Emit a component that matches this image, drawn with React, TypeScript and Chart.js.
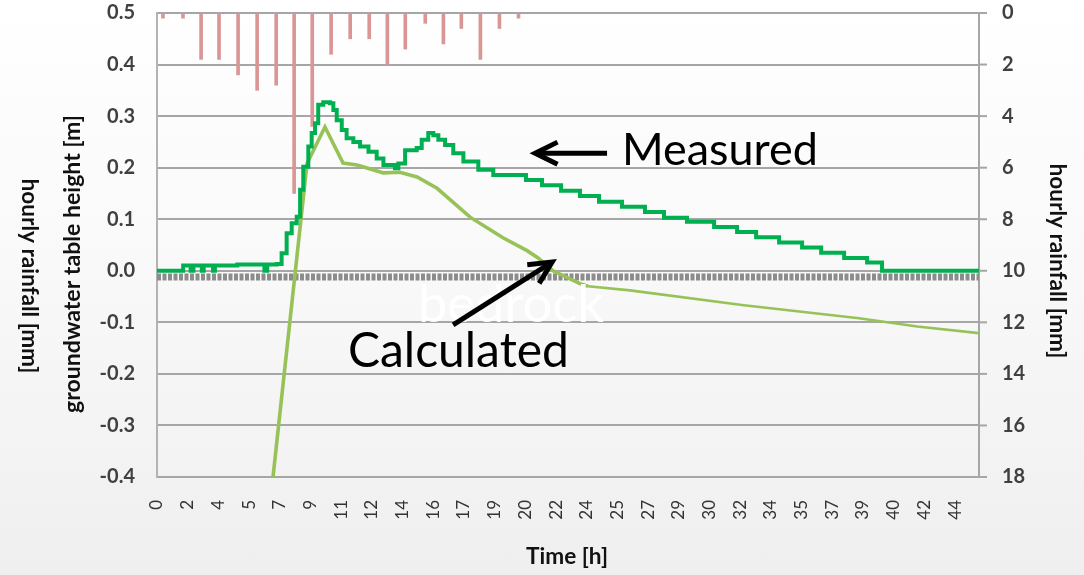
import React, { useEffect, useRef } from 'react';
import { Chart, registerables } from 'chart.js';

Chart.register(...registerables);

// ---- x axis (time, hours) ----
const X_MAX_H = 44;
const TICK_STEP_H = 1.643;
const TICK_LABELS = ['0', '2', '4', '5', '7', '9', '11', '12', '14', '16', '17', '19', '20', '22', '24', '25', '27', '29', '30', '32', '34', '35', '37', '39', '40', '42', '44'];

// ---- hourly rainfall [mm] (secondary, reversed axis) ----
const RAIN_T = [0.32, 1.39, 2.36, 3.32, 4.34, 5.36, 6.38, 7.34, 8.31, 9.32, 10.34, 11.36, 12.33, 13.29, 14.36, 15.33, 16.29, 17.31, 18.33, 19.35];
const RAIN_MM = [0.2, 0.2, 1.8, 1.8, 2.4, 3.0, 2.8, 7.0, 4.4, 1.6, 1.0, 1.0, 2.0, 1.4, 0.4, 1.2, 0.6, 1.8, 0.6, 0.2];

// ---- measured groundwater table height [m] ----
const MEASURED_T = [0, 1.4, 1.8, 1.95, 2.4, 2.5, 3.0, 3.1, 4.3, 5.75, 5.9, 6.41, 6.67, 6.94, 7.21, 7.48, 7.66, 7.83, 8.10, 8.28, 8.46, 8.63, 8.90, 9.26, 9.44, 9.62, 9.89, 10.15, 10.51, 10.87, 11.32, 11.76, 12.12, 12.74, 12.92, 13.28, 13.90, 14.17, 14.52, 14.79, 15.06, 15.42, 15.86, 16.40, 17.20, 18.00, 19.75, 20.61, 21.63, 22.64, 23.66, 24.89, 26.12, 27.14, 28.37, 29.82, 31.05, 32.07, 33.30, 34.53, 35.55, 36.78, 38.01, 38.81, 44];
const MEASURED_H = [0, 0.01, 0, 0.01, 0, 0.01, 0, 0.01, 0.012, 0, 0.012, 0.013, 0.034, 0.073, 0.092, 0.105, 0.157, 0.202, 0.241, 0.267, 0.286, 0.322, 0.327, 0.325, 0.312, 0.292, 0.273, 0.257, 0.250, 0.241, 0.231, 0.218, 0.205, 0.199, 0.208, 0.234, 0.238, 0.254, 0.267, 0.263, 0.254, 0.244, 0.228, 0.212, 0.196, 0.186, 0.176, 0.166, 0.155, 0.145, 0.134, 0.124, 0.114, 0.103, 0.095, 0.085, 0.075, 0.065, 0.055, 0.045, 0.035, 0.025, 0.016, 0, 0];

// ---- calculated groundwater table height [m] ----
const CALC_T = [6.21, 8.03, 8.99, 9.96, 10.71, 12.10, 13.0, 13.92, 14.99, 16.76, 18.52, 19.81, 20.4, 21.2, 22.64, 23.07, 25.32, 31.42, 37.58, 40.69, 44];
const CALC_H = [-0.40, 0.208, 0.279, 0.209, 0.205, 0.19, 0.191, 0.182, 0.160, 0.104, 0.064, 0.039, 0.025, 0.0, -0.025, -0.030, -0.038, -0.067, -0.092, -0.108, -0.121];

// ---- bedrock level [m] ----
const BEDROCK_H = -0.012;

const FONT = 'Lato, "Open Sans", sans-serif';
const AXIS_GRAY = '#a6a6a6';

export default function App() {
  const ref = useRef<HTMLCanvasElement>(null);

  useEffect(() => {
    const canvas = ref.current;
    if (!canvas) return;

    const fitFont = (ctx: CanvasRenderingContext2D, text: string, width: number, weight: string) => {
      ctx.font = `${weight} 20px ${FONT}`;
      const w = ctx.measureText(text).width;
      const size = (20 * width) / w;
      ctx.font = `${weight} ${size.toFixed(2)}px ${FONT}`;
    };

    const rotText = (ctx: CanvasRenderingContext2D, text: string, x: number, y: number, ang: number, width: number, weight: string) => {
      ctx.save();
      ctx.translate(x, y);
      ctx.rotate(ang);
      fitFont(ctx, text, width, weight);
      ctx.textAlign = 'center';
      ctx.textBaseline = 'middle';
      ctx.fillText(text, 0, 0);
      ctx.restore();
    };

    const arrow = (ctx: CanvasRenderingContext2D, x1: number, y1: number, x2: number, y2: number) => {
      const a = Math.atan2(y2 - y1, x2 - x1);
      const hl = 25;
      const hw = 0.46;
      ctx.save();
      ctx.strokeStyle = '#000';
      ctx.lineWidth = 5;
      ctx.lineCap = 'butt';
      ctx.lineJoin = 'miter';
      ctx.beginPath();
      ctx.moveTo(x1, y1);
      ctx.lineTo(x2 - 3 * Math.cos(a), y2 - 3 * Math.sin(a));
      ctx.stroke();
      ctx.beginPath();
      ctx.moveTo(x2 - hl * Math.cos(a - hw), y2 - hl * Math.sin(a - hw));
      ctx.lineTo(x2, y2);
      ctx.lineTo(x2 - hl * Math.cos(a + hw), y2 - hl * Math.sin(a + hw));
      ctx.stroke();
      ctx.restore();
    };

    const annot = {
      id: 'annot',
      afterDatasetsDraw(chart: any) {
        const ctx = chart.ctx as CanvasRenderingContext2D;
        const xs = chart.scales.x;
        const ys = chart.scales.y;
        ctx.save();
        fitFont(ctx, 'bedrock', 186, 'normal');
        ctx.fillStyle = 'rgba(255,255,255,0.95)';
        ctx.textAlign = 'left';
        ctx.textBaseline = 'alphabetic';
        ctx.fillText('bedrock', xs.getPixelForValue(13.97), ys.getPixelForValue(-0.099));
        ctx.restore();
      },
      afterDraw(chart: any) {
        const ctx = chart.ctx as CanvasRenderingContext2D;
        const xs = chart.scales.x;
        const ys = chart.scales.y;
        const y2 = chart.scales.y2;
        const px = (h: number) => xs.getPixelForValue(h);
        const py = (m: number) => ys.getPixelForValue(m);

        // outside tick marks on the right axis
        ctx.save();
        ctx.strokeStyle = AXIS_GRAY;
        ctx.lineWidth = 2;
        for (const t of y2.ticks) {
          const yy = y2.getPixelForValue(t.value);
          ctx.beginPath();
          ctx.moveTo(chart.chartArea.right, yy);
          ctx.lineTo(chart.chartArea.right + 8, yy);
          ctx.stroke();
        }
        ctx.restore();

        ctx.save();
        ctx.fillStyle = '#111';
        rotText(ctx, 'groundwater table height [m]', 73, 264, -Math.PI / 2, 298, 'bold');
        rotText(ctx, 'hourly rainfall [mm]', 29, 276, Math.PI / 2, 195, 'bold');
        rotText(ctx, 'hourly rainfall [mm]', 1057, 261, Math.PI / 2, 195, 'bold');
        rotText(ctx, 'Time [h]', 567, 557, 0, 82, 'bold');

        ctx.fillStyle = '#000';
        ctx.textAlign = 'left';
        ctx.textBaseline = 'alphabetic';
        fitFont(ctx, 'Measured', 196, 'normal');
        ctx.fillText('Measured', px(24.89), py(0.205));
        fitFont(ctx, 'Calculated', 221, 'normal');
        ctx.fillText('Calculated', px(10.22), py(-0.187));
        ctx.restore();

        arrow(ctx, px(24.09), py(0.228), px(20.24), py(0.228));
        arrow(ctx, px(15.85), py(-0.105), px(21.15), py(0.017));
      },
    };

    const tickFont = { family: FONT, size: 20, weight: 'bold' as const };

    const chart = new Chart(canvas, {
      type: 'line',
      data: {
        datasets: [
          {
            label: 'Measured',
            data: MEASURED_T.map((t, i) => ({ x: t, y: MEASURED_H[i] })),
            borderColor: '#00b050',
            borderWidth: 4,
            stepped: 'before',
            pointRadius: 0,
            fill: false,
            yAxisID: 'y',
          },
          {
            label: 'Calculated',
            data: CALC_T.map((t, i) => ({ x: t, y: CALC_H[i] })),
            borderColor: '#97c257',
            borderWidth: 3.5,
            segment: {
              borderWidth: (c: any) => (c.p0.parsed.x >= 23 ? 2.6 : 3.6),
            },
            tension: 0,
            pointRadius: 0,
            fill: false,
            yAxisID: 'y',
          },
          {
            label: 'bedrock',
            data: [{ x: 0, y: BEDROCK_H }, { x: X_MAX_H, y: BEDROCK_H }],
            borderColor: '#8c8c8c',
            borderWidth: 7,
            borderDash: [4, 1.5],
            pointRadius: 0,
            fill: false,
            yAxisID: 'y',
          },
          {
            type: 'bar',
            label: 'rainfall',
            data: RAIN_T.map((t, i) => ({ x: t, y: RAIN_MM[i] })),
            backgroundColor: '#d99694',
            barThickness: 3,
            yAxisID: 'y2',
          } as any,
        ],
      },
      options: {
        responsive: false,
        animation: false,
        devicePixelRatio: 1,
        layout: { padding: { top: 13, left: 0, right: 0, bottom: 0 } },
        plugins: { legend: { display: false }, tooltip: { enabled: false } },
        scales: {
          x: {
            type: 'linear',
            min: 0,
            max: X_MAX_H,
            offset: false,
            grid: { display: true, offset: false, drawOnChartArea: false, drawTicks: true, tickLength: 23, tickColor: 'transparent' },
            border: { display: true, color: AXIS_GRAY, width: 2 },
            ticks: {
              autoSkip: false,
              minRotation: 90,
              maxRotation: 90,
              padding: 0,
              color: '#333333',
              font: { family: FONT, size: 17 },
              callback: (_v: any, i: number) => TICK_LABELS[i],
            },
            afterBuildTicks: (s: any) => {
              s.ticks = TICK_LABELS.map((_, k) => ({ value: k * TICK_STEP_H }));
            },
            afterFit: (s: any) => {
              s.height = 98;
            },
          },
          y: {
            position: 'left',
            min: -0.4,
            max: 0.5,
            grid: { color: AXIS_GRAY, lineWidth: 2, drawTicks: true, tickLength: 22, tickColor: 'transparent' },
            border: { display: true, color: '#b3b3b3', width: 2 },
            ticks: {
              stepSize: 0.1,
              padding: 0,
              color: '#404040',
              font: tickFont,
              callback: (v: any) => Number(v).toFixed(1),
            },
            afterFit: (s: any) => {
              s.width = 157;
            },
          },
          y2: {
            position: 'right',
            min: 0,
            max: 18,
            reverse: true,
            grid: { drawOnChartArea: false, drawTicks: true, tickLength: 23, tickColor: 'transparent' },
            border: { display: true, color: AXIS_GRAY, width: 2 },
            ticks: {
              stepSize: 2,
              padding: 0,
              color: '#404040',
              font: tickFont,
            },
            afterFit: (s: any) => {
              s.width = 105;
            },
          },
        },
      },
      plugins: [annot],
    });

    return () => chart.destroy();
  }, []);

  return (
    <div
      style={{
        position: 'fixed',
        left: 0,
        top: 0,
        width: 1084,
        height: 575,
        background: 'linear-gradient(to bottom, #ffffff 0%, #f9f9f9 45%, #efefef 100%)',
      }}
    >
      <canvas ref={ref} width={1084} height={575} style={{ display: 'block', width: 1084, height: 575 }} />
    </div>
  );
}
